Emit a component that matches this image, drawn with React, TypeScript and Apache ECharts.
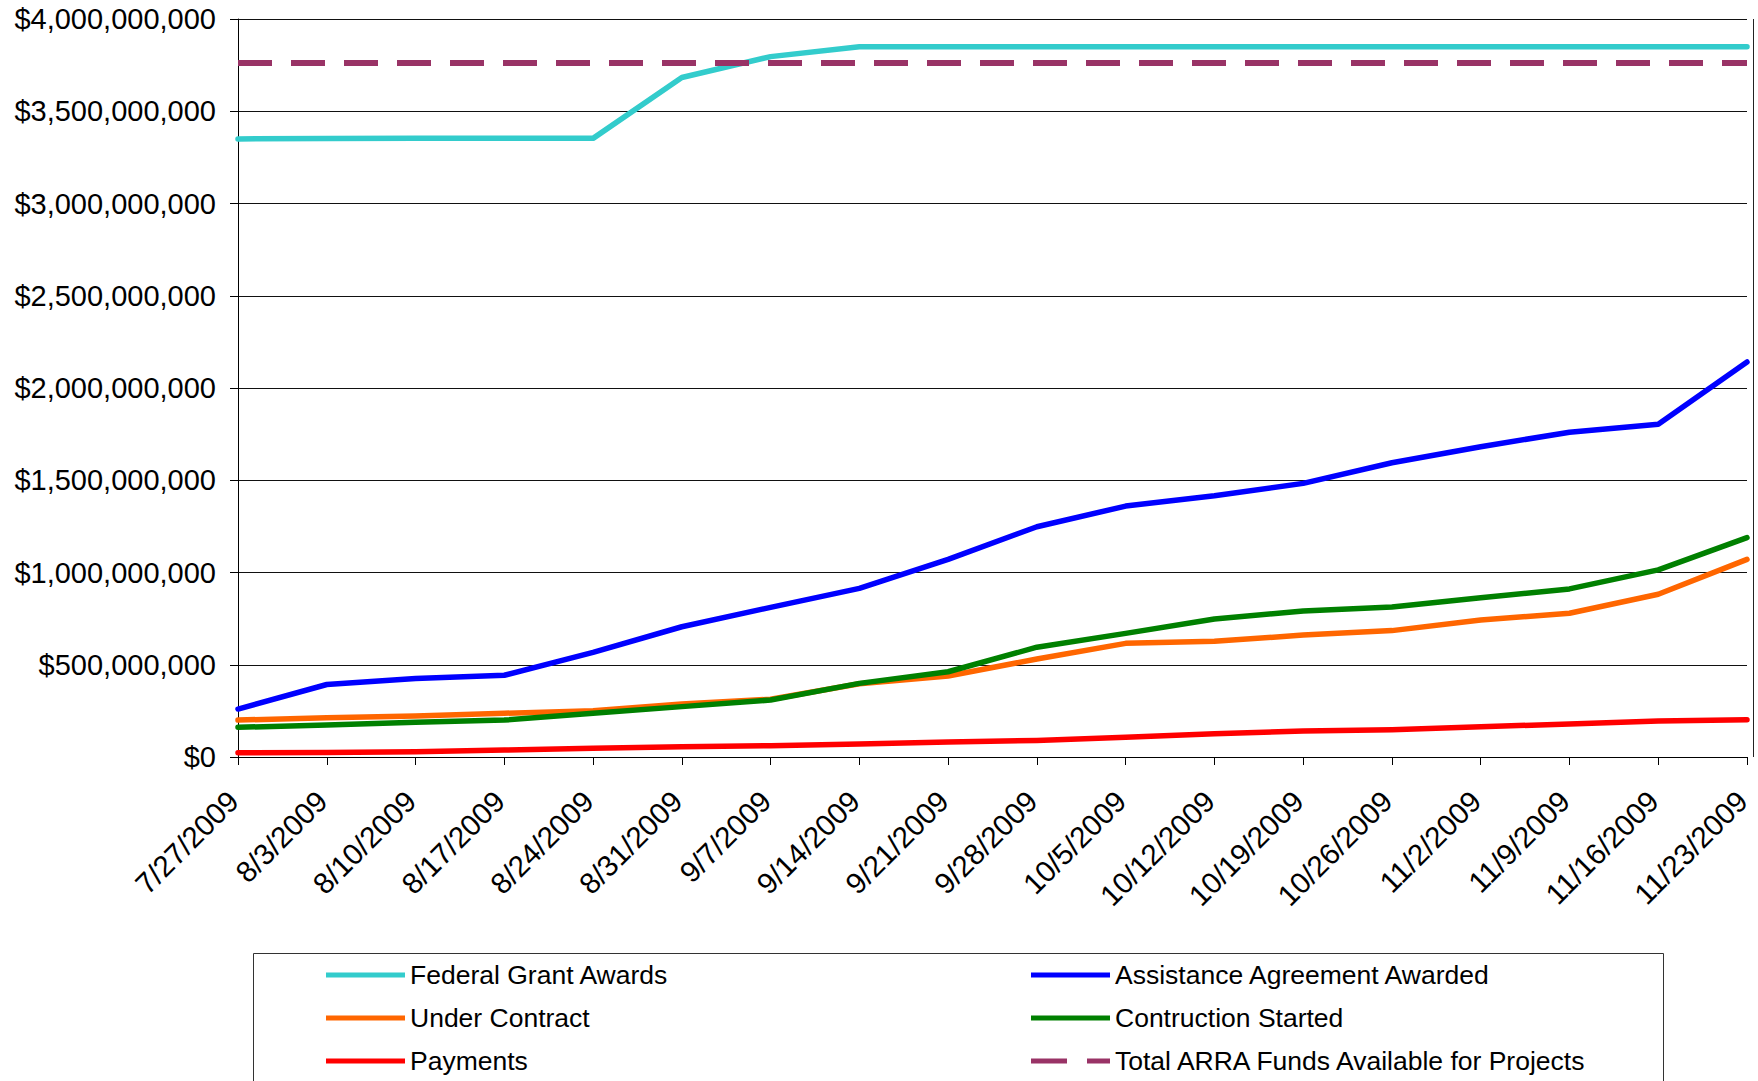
import React, { useEffect, useRef } from "react";
import * as echarts from "echarts";

const categories = [
  "7/27/2009", "8/3/2009", "8/10/2009", "8/17/2009", "8/24/2009", "8/31/2009",
  "9/7/2009", "9/14/2009", "9/21/2009", "9/28/2009", "10/5/2009", "10/12/2009",
  "10/19/2009", "10/26/2009", "11/2/2009", "11/9/2009", "11/16/2009", "11/23/2009",
];

// values in millions of dollars
const federalGrantAwards = [3350, 3352, 3353, 3353, 3353, 3683, 3796, 3850, 3850, 3850, 3850, 3850, 3850, 3850, 3850, 3850, 3850, 3850];
const assistanceAgreementAwarded = [260, 393, 426, 443, 567, 706, 811, 914, 1071, 1248, 1360, 1416, 1483, 1595, 1682, 1760, 1803, 2141];
const underContract = [200, 213, 222, 237, 251, 287, 313, 397, 439, 531, 616, 627, 661, 685, 743, 779, 882, 1071];
const constructionStarted = [161, 173, 188, 200, 237, 273, 309, 399, 462, 595, 670, 748, 791, 813, 863, 911, 1014, 1189];
const payments = [23, 25, 29, 38, 47, 56, 61, 70, 81, 90, 107, 126, 141, 148, 164, 179, 195, 202];
const totalArraFunds = [3762, 3762, 3762, 3762, 3762, 3762, 3762, 3762, 3762, 3762, 3762, 3762, 3762, 3762, 3762, 3762, 3762, 3762];

const yTicks = [0, 500, 1000, 1500, 2000, 2500, 3000, 3500, 4000];

const FONT = "'Liberation Sans', Arial, sans-serif";

const SOLID_ICON = "path://M0,0H79V5H0Z";
const DASH_ICON = "path://M0,0H36V5H0Z M56,0H79V5H56Z";

const seriesDefs = [
  { name: "Federal Grant Awards", data: federalGrantAwards, color: "#33CCCC", width: 5.5, type: "solid" as any, icon: SOLID_ICON },
  { name: "Assistance Agreement Awarded", data: assistanceAgreementAwarded, color: "#0000FF", width: 5.5, type: "solid" as any, icon: SOLID_ICON },
  { name: "Under Contract", data: underContract, color: "#FF6600", width: 5.5, type: "solid" as any, icon: SOLID_ICON },
  { name: "Contruction Started", data: constructionStarted, color: "#008000", width: 5.5, type: "solid" as any, icon: SOLID_ICON },
  { name: "Payments", data: payments, color: "#FF0000", width: 5.5, type: "solid" as any, icon: SOLID_ICON },
  { name: "Total ARRA Funds Available for Projects", data: totalArraFunds, color: "#993366", width: 6, type: [34, 19] as any, icon: DASH_ICON },
];

const legendCol1 = ["Federal Grant Awards", "Under Contract", "Payments"];
const legendCol2 = ["Assistance Agreement Awarded", "Contruction Started", "Total ARRA Funds Available for Projects"];

export default function App() {
  const ref = useRef<HTMLDivElement>(null);
  useEffect(() => {
    if (!ref.current) return;
    const chart = echarts.init(ref.current, null, { renderer: "svg" });
    const legendItem = (name: string) => {
      const s = seriesDefs.find((d) => d.name === name)!;
      return { name, icon: s.icon, itemStyle: { color: s.color, borderWidth: 0 } };
    };
    const legendCommon = {
      orient: "vertical",
      top: 960,
      padding: 0,
      itemWidth: 79,
      itemHeight: 5,
      itemGap: 13,
      symbolKeepAspect: false,
      textStyle: { fontFamily: FONT, fontSize: 26.5, color: "#000", lineHeight: 30 },
    };
    chart.setOption({
      animation: false,
      backgroundColor: "#fff",
      grid: {
        left: 238,
        top: 19,
        width: 1509,
        height: 738,
        show: false,
      },
      legend: [
        { ...legendCommon, left: 326, data: legendCol1.map(legendItem) },
        { ...legendCommon, left: 1031, data: legendCol2.map(legendItem) },
      ],
      xAxis: {
        type: "category",
        data: categories,
        boundaryGap: false,
        axisLine: { lineStyle: { color: "#000", width: 1 } },
        axisTick: { show: true, length: 8, lineStyle: { color: "#000" } },
        axisLabel: {
          rotate: 45,
          interval: 0,
          margin: 34,
          padding: [0, 7, 0, 0],
          fontFamily: FONT,
          fontSize: 29.5,
          color: "#000",
        },
        splitLine: { show: false },
      },
      yAxis: {
        type: "value",
        min: yTicks[0] * 1e6,
        max: yTicks[yTicks.length - 1] * 1e6,
        interval: 500e6,
        axisLine: { show: true, lineStyle: { color: "#000", width: 1 } },
        axisTick: { show: true, length: 8, lineStyle: { color: "#000" } },
        axisLabel: {
          margin: 22,
          fontFamily: FONT,
          fontSize: 29,
          color: "#000",
          formatter: (v: number) => "$" + Math.round(v).toLocaleString("en-US"),
        },
        splitLine: { show: true, lineStyle: { color: "#111", width: 1 } },
      },
      graphic: [
        {
          type: "line",
          shape: { x1: 1753.5, y1: 19, x2: 1753.5, y2: 757 },
          style: { stroke: "#222", lineWidth: 1 },
          silent: true,
        },
        {
          type: "rect",
          shape: { x: 253.5, y: 953.5, width: 1410, height: 200 },
          style: { fill: "none", stroke: "#333", lineWidth: 1 },
          silent: true,
        },
      ],
      series: seriesDefs.map((s) => ({
        name: s.name,
        type: "line",
        data: s.data.map((v) => v * 1e6),
        symbol: "none",
        showSymbol: false,
        itemStyle: { color: s.color },
        lineStyle: { color: s.color, width: s.width, type: s.type, cap: s.icon === DASH_ICON ? "butt" : "round", join: "round" },
      })),
    });
    return () => chart.dispose();
  }, []);
  return (
    <div
      ref={ref}
      style={{ position: "absolute", left: 0, top: 0, width: 1758, height: 1081 }}
    />
  );
}
